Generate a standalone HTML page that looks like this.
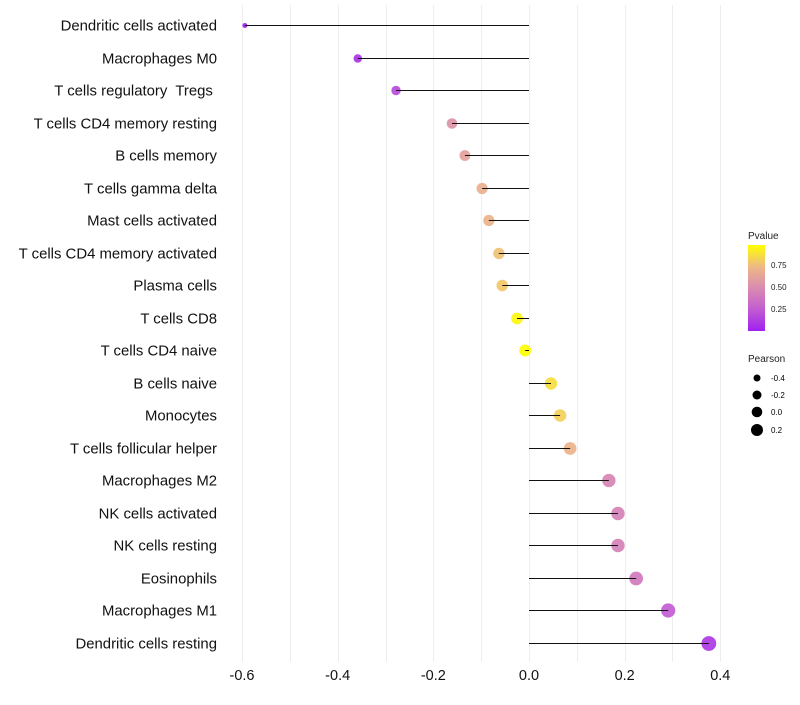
<!DOCTYPE html>
<html><head><meta charset="utf-8"><style>
body{margin:0;background:#fff;}
svg text{font-family:"Liberation Sans",sans-serif;white-space:pre;}
</style></head><body>
<svg id="chart" width="800" height="700" xmlns="http://www.w3.org/2000/svg">
<defs><linearGradient id="pg" x1="0" y1="1" x2="0" y2="0">
<stop offset="0" stop-color="#A020F0"/><stop offset="0.25" stop-color="#C25CD2"/><stop offset="0.5" stop-color="#D98BB0"/><stop offset="0.75" stop-color="#EDB985"/><stop offset="1" stop-color="#FFFF00"/>
</linearGradient></defs>
<g id="grid"></g><g id="marks"></g><g id="ylabels"></g><g id="xticks"></g>
<g>
<text x="748" y="239" font-size="10" fill="#222">Pvalue</text>
<rect x="748" y="245" width="17" height="86" fill="url(#pg)"/>
<text x="771" y="268" font-size="8" fill="#222">0.75</text>
<text x="771" y="290" font-size="8" fill="#222">0.50</text>
<text x="771" y="312" font-size="8" fill="#222">0.25</text>
</g>
<g>
<text x="748" y="362" font-size="10" fill="#222">Pearson</text>
<circle cx="757" cy="378" r="3.5" fill="#000"/><text x="771" y="381" font-size="8">-0.4</text>
<circle cx="757" cy="395" r="4.5" fill="#000"/><text x="771" y="398" font-size="8">-0.2</text>
<circle cx="757" cy="412" r="5.3" fill="#000"/><text x="771" y="415" font-size="8">0.0</text>
<circle cx="757" cy="430" r="6" fill="#000"/><text x="771" y="433" font-size="8">0.2</text>
</g>
</svg>
<script>
const categories=["Dendritic cells activated","Macrophages M0","T cells regulatory  Tregs ","T cells CD4 memory resting","B cells memory","T cells gamma delta","Mast cells activated","T cells CD4 memory activated","Plasma cells","T cells CD8","T cells CD4 naive","B cells naive","Monocytes","T cells follicular helper","Macrophages M2","NK cells activated","NK cells resting","Eosinophils","Macrophages M1","Dendritic cells resting"];
const pearson=[-0.594,-0.358,-0.278,-0.161,-0.134,-0.098,-0.084,-0.063,-0.056,-0.025,-0.008,0.046,0.065,0.086,0.167,0.186,0.186,0.224,0.291,0.376];
const pvalue=[0.0,0.08,0.18,0.55,0.62,0.7,0.72,0.78,0.8,0.97,0.99,0.88,0.83,0.72,0.47,0.45,0.45,0.4,0.25,0.1];
const xTicks=[-0.6,-0.4,-0.2,0.0,0.2,0.4];
const gridVals=[-0.6,-0.5,-0.4,-0.3,-0.2,-0.1,0,0.1,0.2,0.3,0.4];
const NS="http://www.w3.org/2000/svg";
const x=v=>529+v*478.3;
const y=i=>Math.round(25+i*32.5)+0.5;
const rad=p=>Math.sqrt(Math.max(2.5,36+50*p));
const stops=[[0,[160,32,240]],[0.25,[194,92,210]],[0.5,[217,139,176]],[0.75,[237,185,133]],[1,[255,255,0]]];
function col(p){for(let k=0;k<stops.length-1;k++){const a=stops[k],b=stops[k+1];if(p<=b[0]){const t=(p-a[0])/(b[0]-a[0]);return "rgb("+a[1].map((c,j)=>Math.round(c+(b[1][j]-c)*t)).join(",")+")";}}return "rgb(255,255,0)";}
function mk(t,at,parent){const e=document.createElementNS(NS,t);for(const k in at)e.setAttribute(k,at[k]);document.getElementById(parent).appendChild(e);return e;}
gridVals.forEach(v=>{const l=mk("line",{x1:Math.round(x(v))+0.5,x2:Math.round(x(v))+0.5,y1:5,y2:662,stroke:"#eeeeee","stroke-width":1},"grid");

});
categories.forEach((c,i)=>{
const pt=mk("circle",{cx:x(pearson[i]),cy:y(i),r:rad(pearson[i]),fill:col(pvalue[i]),"fill-opacity":0.92},"marks");


const sg=mk("line",{x1:x(0),x2:x(pearson[i]),y1:y(i),y2:y(i),stroke:"#111","stroke-width":1},"marks");


const t=mk("text",{x:217,y:y(i)+5,"text-anchor":"end","font-size":14.9,fill:"#111"},"ylabels");
t.textContent=c;


});
xTicks.forEach(v=>{const t=mk("text",{x:x(v),y:680,"text-anchor":"middle","font-size":14.5,fill:"#111"},"xticks");
t.textContent=v.toFixed(1);

});
</script>
</body></html>
